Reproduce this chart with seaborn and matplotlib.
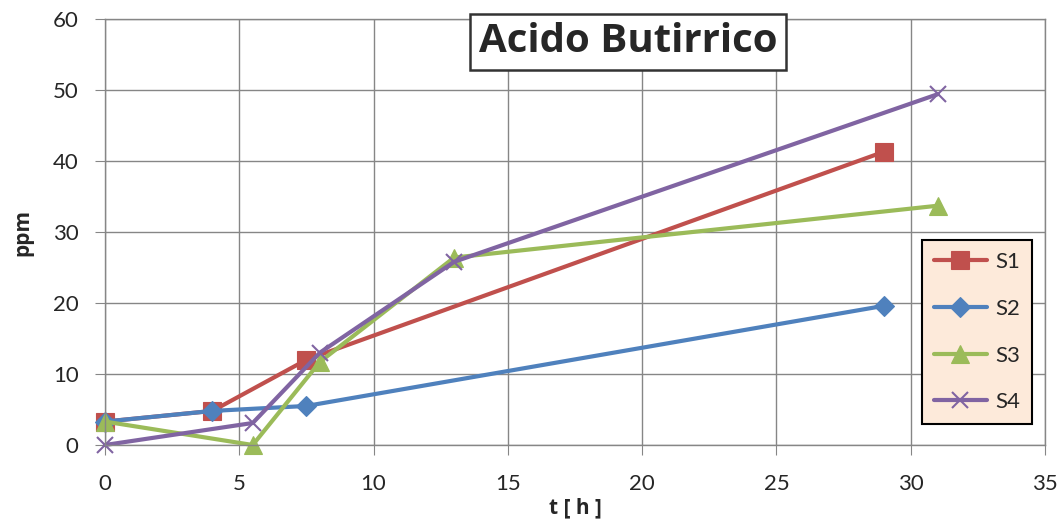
import matplotlib
matplotlib.use("Agg")
import matplotlib.pyplot as plt
import seaborn as sns
import pandas as pd

# Data
s1_t = [0, 4, 7.5, 29]
s1_ppm = [3.3, 4.8, 12.0, 41.3]
s2_t = [0, 4, 7.5, 29]
s2_ppm = [3.3, 4.8, 5.5, 19.6]
s3_t = [0, 5.5, 8, 13, 31]
s3_ppm = [3.3, 0.0, 11.7, 26.4, 33.7]
s4_t = [0, 5.5, 8, 13, 31]
s4_ppm = [0.0, 3.1, 13.0, 25.8, 49.4]

series = {
    "S1": (s1_t, s1_ppm, "#C0504D", "s", 13),
    "S2": (s2_t, s2_ppm, "#4F81BD", "D", 10),
    "S3": (s3_t, s3_ppm, "#9BBB59", "^", 13),
    "S4": (s4_t, s4_ppm, "#8064A2", "x", 12),
}

sns.set_style("white")
plt.rcParams["font.family"] = ["Lato", "DejaVu Sans"]

fig = plt.figure(figsize=(10.61, 5.30), dpi=100)
ax = fig.add_axes([105 / 1061, 85 / 530, 940 / 1061, 426 / 530])

for name, (t, ppm, col, mk, ms) in series.items():
    df = pd.DataFrame({"t": t, "ppm": ppm})
    sns.lineplot(data=df, x="t", y="ppm", ax=ax, color=col, marker=mk,
                 markersize=ms, linewidth=3, label=name, clip_on=False,
                 markeredgecolor=col, markeredgewidth=1.5 if mk == "x" else 0.8)

ax.set_xlim(0, 35)
ax.set_ylim(0, 60)
ax.set_xticks(range(0, 36, 5))
ax.set_yticks(range(0, 61, 10))
ax.grid(True, color="#868686", linewidth=1)
ax.set_axisbelow(True)
for sp in ax.spines.values():
    sp.set_color("#868686")
    sp.set_linewidth(1)
ax.tick_params(axis="both", labelsize=16, length=7, color="#868686",
               direction="out", bottom=True, left=True)
ax.tick_params(axis="x", pad=14)
ax.tick_params(axis="y", pad=12)
ax.set_xlabel("t [ h ]", fontsize=15, fontweight="bold", labelpad=2,
              family=["Open Sans", "DejaVu Sans"])
ax.set_ylabel("ppm", fontsize=15, fontweight="bold", labelpad=14,
              family=["Open Sans", "DejaVu Sans"])

leg = ax.legend(loc="upper right", bbox_to_anchor=(1032 / 1061, 1 - 240 / 530),
                bbox_transform=fig.transFigure, fontsize=16, frameon=True,
                fancybox=False, handlelength=2.4, labelspacing=1.2,
                borderpad=0.55, handletextpad=0.35, borderaxespad=0)
leg.get_frame().set_facecolor("#FDEADA")
leg.get_frame().set_edgecolor("black")
leg.get_frame().set_linewidth(1.5)
leg.get_frame().set_alpha(1)
leg.set_zorder(5)

fig.text(628 / 1061, 1 - 42 / 530, "Acido Butirrico", fontsize=29,
         fontweight="bold", ha="center", va="center",
         family=["Open Sans", "DejaVu Sans"],
         bbox=dict(boxstyle="square,pad=0.22", facecolor="white",
                   edgecolor="#333333", linewidth=1.8))

fig.savefig("out.png", dpi=100)
